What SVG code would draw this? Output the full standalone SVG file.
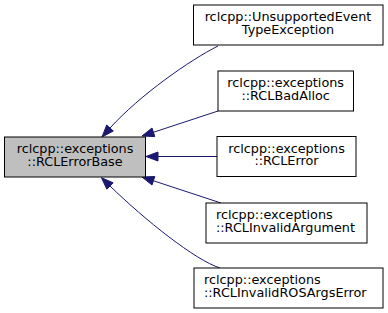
<svg xmlns="http://www.w3.org/2000/svg" width="388" height="313" viewBox="0 0 388 313">
<style>
.box{fill:#ffffff;stroke:#000000;stroke-width:1}
.base{fill:#bfbfbf;stroke:#000000;stroke-width:1}
.t{font-family:"DejaVu Sans",sans-serif;font-size:12.8px;fill:#000000}
.m{text-anchor:middle}
.e{fill:none;stroke:#191970;stroke-width:1}
.a{fill:#191970;stroke:#191970;stroke-width:1}
</style>
<rect width="388" height="313" fill="#ffffff"/>
<g id="edges">
<path class="e" d="M218,46 C190,60 140,95 110,128"/>
<polygon class="a" points="113.3,131 106.7,125 102,137"/>
<path class="e" d="M218,111 L153.4,132.3"/>
<polygon class="a" points="154.8,136.6 152,128 142,136"/>
<path class="e" d="M217,156.5 L158,156.5"/>
<polygon class="a" points="158,152 158,161 146,156.5"/>
<path class="e" d="M221,203 L153.4,180.75"/>
<polygon class="a" points="154.8,176.5 152,185 142,177"/>
<path class="e" d="M220,268 C195,260 145,220 110,186"/>
<polygon class="a" points="113.1,182.8 106.9,189.2 101.4,177.7"/>
</g>
<g id="RCLErrorBase">
<rect class="base" x="4.5" y="137" width="141" height="40"/>
<text class="t m" x="75" y="153">rclcpp::exceptions</text>
<text class="t m" x="75" y="165.5">::RCLErrorBase</text>
</g>
<g id="UnsupportedEventTypeException">
<rect class="box" x="193.5" y="5" width="189.5" height="40"/>
<text class="t m" x="288" y="21">rclcpp::UnsupportedEvent</text>
<text class="t m" x="288" y="33.5">TypeException</text>
</g>
<g id="RCLBadAlloc">
<rect class="box" x="218" y="71" width="135.5" height="40"/>
<text class="t m" x="285.7" y="87">rclcpp::exceptions</text>
<text class="t m" x="285.7" y="99.5">::RCLBadAlloc</text>
</g>
<g id="RCLError">
<rect class="box" x="217" y="136.5" width="139" height="40"/>
<text class="t m" x="286.5" y="152.5">rclcpp::exceptions</text>
<text class="t m" x="286.5" y="165">::RCLError</text>
</g>
<g id="RCLInvalidArgument">
<rect class="box" x="206" y="203" width="161" height="40"/>
<text class="t" x="216" y="219">rclcpp::exceptions</text>
<text class="t" x="216" y="231.5">::RCLInvalidArgument</text>
</g>
<g id="RCLInvalidROSArgsError">
<rect class="box" x="194" y="268" width="189" height="40"/>
<text class="t" x="204" y="284">rclcpp::exceptions</text>
<text class="t" x="204" y="296.5">::RCLInvalidROSArgsError</text>
</g>
</svg>
